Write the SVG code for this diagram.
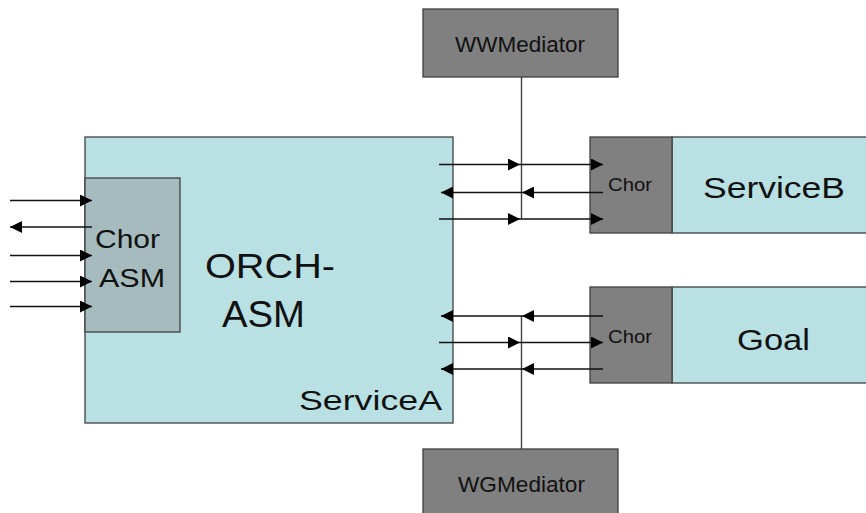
<svg xmlns="http://www.w3.org/2000/svg" width="866" height="513" viewBox="0 0 866 513">
<style>
.light{fill:#B9E0E3;stroke:#404040;stroke-width:1.3}
.dark{fill:#808080;stroke:#404040;stroke-width:1.3}
.asm{fill:#A5BBBE;stroke:#404040;stroke-width:1.3}
.t{font-family:"Liberation Sans",Arial,sans-serif;fill:#111}
.a{stroke:#111;stroke-width:1.6;fill:none}
.v{stroke:#404040;stroke-width:1.4;fill:none}
</style>
<defs>
<marker id="ah" markerUnits="userSpaceOnUse" markerWidth="12" markerHeight="12" refX="12" refY="6" orient="auto">
<path d="M0,0 L12,6 L0,12 z" fill="#000"/>
</marker>
</defs>
<g id="serviceA">
<rect class="light" x="85" y="137" width="368" height="286"/>
<text class="t" x="205" y="278" font-size="35" textLength="130" lengthAdjust="spacingAndGlyphs">ORCH-</text>
<text class="t" x="222" y="327" font-size="36" textLength="83" lengthAdjust="spacingAndGlyphs">ASM</text>
<text class="t" x="299" y="410" font-size="27" textLength="143" lengthAdjust="spacingAndGlyphs">ServiceA</text>
</g>
<g id="chorASM">
<rect class="asm" x="85" y="178" width="95" height="154"/>
<text class="t" x="95" y="248" font-size="26" textLength="65" lengthAdjust="spacingAndGlyphs">Chor</text>
<text class="t" x="99" y="287" font-size="26" textLength="66" lengthAdjust="spacingAndGlyphs">ASM</text>
</g>
<g id="wwMediator">
<rect class="dark" x="423" y="9" width="195" height="68"/>
<text class="t" x="455" y="52" font-size="22" textLength="130" lengthAdjust="spacingAndGlyphs">WWMediator</text>
</g>
<g id="wgMediator">
<rect class="dark" x="423" y="449" width="195" height="66"/>
<text class="t" x="458" y="492" font-size="22" textLength="127" lengthAdjust="spacingAndGlyphs">WGMediator</text>
</g>
<g id="serviceB">
<rect class="light" x="672" y="137" width="196" height="96"/>
<rect class="dark" x="590" y="137" width="82" height="96"/>
<text class="t" x="608" y="191" font-size="19" textLength="44" lengthAdjust="spacingAndGlyphs">Chor</text>
<text class="t" x="703" y="198" font-size="29" textLength="142" lengthAdjust="spacingAndGlyphs">ServiceB</text>
</g>
<g id="goal">
<rect class="light" x="672" y="287" width="196" height="96"/>
<rect class="dark" x="590" y="287" width="82" height="96"/>
<text class="t" x="608" y="343" font-size="19" textLength="44" lengthAdjust="spacingAndGlyphs">Chor</text>
<text class="t" x="737" y="350" font-size="30" textLength="73" lengthAdjust="spacingAndGlyphs">Goal</text>
</g>
<g id="connectors">
<path class="v" d="M521.5,77 L521.5,219"/>
<path class="v" d="M521.5,316 L521.5,449"/>
<path class="a" d="M10,200.5 L92,200.5" marker-end="url(#ah)"/>
<path class="a" d="M92,227 L10,227" marker-end="url(#ah)"/>
<path class="a" d="M10,255.5 L92,255.5" marker-end="url(#ah)"/>
<path class="a" d="M10,281.5 L92,281.5" marker-end="url(#ah)"/>
<path class="a" d="M10,306.5 L92,306.5" marker-end="url(#ah)"/>
<path class="a" d="M439,164.5 L520,164.5 L603,164.5" marker-mid="url(#ah)" marker-end="url(#ah)"/>
<path class="a" d="M603,192.5 L522,192.5 L441,192.5" marker-mid="url(#ah)" marker-end="url(#ah)"/>
<path class="a" d="M439,219 L520,219 L603,219" marker-mid="url(#ah)" marker-end="url(#ah)"/>
<path class="a" d="M603,316 L522,316 L441,316" marker-mid="url(#ah)" marker-end="url(#ah)"/>
<path class="a" d="M439,342.5 L520,342.5 L603,342.5" marker-mid="url(#ah)" marker-end="url(#ah)"/>
<path class="a" d="M603,369 L522,369 L441,369" marker-mid="url(#ah)" marker-end="url(#ah)"/>
</g>
</svg>
